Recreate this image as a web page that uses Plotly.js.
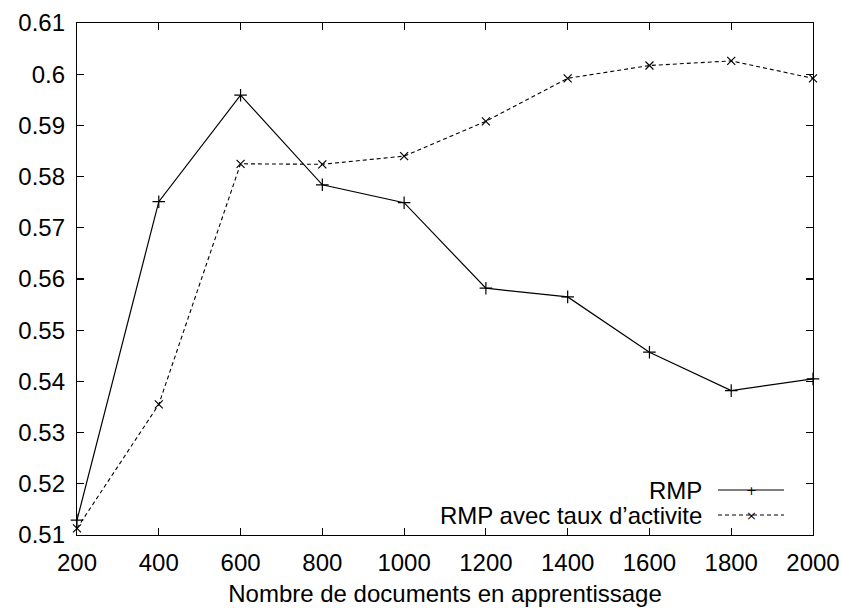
<!DOCTYPE html>
<html>
<head>
<meta charset="utf-8">
<script src="https://cdn.plot.ly/plotly-3.0.1.min.js"></script>
<style>html,body{margin:0;padding:0;background:#fff;}#chart{width:842px;height:608px;}</style>
</head>
<body>
<div id="chart"></div>
<script>
const docs = [200, 400, 600, 800, 1000, 1200, 1400, 1600, 1800, 2000];
const rmp = [0.5129, 0.5751, 0.5959, 0.5784, 0.5749, 0.5582, 0.5565, 0.5457, 0.5382, 0.5405];
const rmpTaux = [0.5113, 0.5355, 0.5825, 0.5824, 0.5840, 0.5908, 0.5992, 0.6017, 0.6026, 0.5992];
const yTickVals = [0.51, 0.52, 0.53, 0.54, 0.55, 0.56, 0.57, 0.58, 0.59, 0.60, 0.61];
const yTickText = ["0.51", "0.52", "0.53", "0.54", "0.55", "0.56", "0.57", "0.58", "0.59", "0.6", "0.61"];
const xTickVals = [200, 400, 600, 800, 1000, 1200, 1400, 1600, 1800, 2000];
const seriesNames = ["RMP", "RMP avec taux d\u2019activite"];

const font = {family: "Liberation Sans", size: 24, color: "#000"};

const traces = [
  {x: docs, y: rmp, type: "scatter", mode: "lines+markers", name: seriesNames[0],
   line: {color: "#000", width: 1.2},
   marker: {symbol: "cross-thin", size: 9, line: {color: "#000", width: 1.2}},
   cliponaxis: false, showlegend: false},
  {x: docs, y: rmpTaux, type: "scatter", mode: "lines+markers", name: seriesNames[1],
   line: {color: "#000", width: 1.1, dash: "4px,3px"},
   marker: {symbol: "x-thin", size: 8, line: {color: "#000", width: 1.2}},
   cliponaxis: false, showlegend: false}
];

const axisCommon = {
  showgrid: false, zeroline: false, showline: true, linecolor: "#000", linewidth: 1.2,
  mirror: "ticks", ticks: "inside", ticklen: 7, tickwidth: 1.2, tickcolor: "#000",
  tickfont: font
};

// plot area in pixels: x 77..813, y 23..535
function pxX(px){ return (px - 77) / 736; }
function pxY(py){ return 1 - (py - 23) / 512; }

const annotations = [
  {xref: "paper", yref: "paper", x: pxX(704), y: pxY(490), xanchor: "right", yanchor: "middle",
   text: seriesNames[0], showarrow: false, font: font},
  {xref: "paper", yref: "paper", x: pxX(704), y: pxY(515), xanchor: "right", yanchor: "middle",
   text: seriesNames[1], showarrow: false, font: font},
  {xref: "paper", yref: "paper", x: pxX(751), y: pxY(490), xanchor: "center", yanchor: "middle",
   text: "+", showarrow: false, font: {family: "DejaVu Sans", size: 13, color: "#000"}},
  {xref: "paper", yref: "paper", x: pxX(751), y: pxY(515), xanchor: "center", yanchor: "middle",
   text: "\u00d7", showarrow: false, font: {family: "DejaVu Sans", size: 13, color: "#000"}}
];
const shapes = [
  {type: "line", xref: "paper", yref: "paper", x0: pxX(718), x1: pxX(784), y0: pxY(490), y1: pxY(490),
   line: {color: "#000", width: 1.2}},
  {type: "line", xref: "paper", yref: "paper", x0: pxX(718), x1: pxX(784), y0: pxY(515), y1: pxY(515),
   line: {color: "#000", width: 1.1, dash: "4px,3px"}}
];

const layout = {
  width: 842, height: 608,
  margin: {l: 77, r: 29, t: 23, b: 73, pad: 0},
  paper_bgcolor: "#fff", plot_bgcolor: "#fff",
  font: font,
  showlegend: false,
  xaxis: Object.assign({}, axisCommon, {
    range: [200, 2000], tickvals: xTickVals, ticktext: xTickVals.map(String),
    ticklabelstandoff: 6,
    title: {text: "Nombre de documents en apprentissage", font: font, standoff: 10}
  }),
  yaxis: Object.assign({}, axisCommon, {
    range: [0.51, 0.61], tickvals: yTickVals, ticktext: yTickText,
    ticklabelstandoff: 6
  }),
  annotations: annotations,
  shapes: shapes
};

Plotly.newPlot("chart", traces, layout, {displayModeBar: false, staticPlot: true});
</script>
</body>
</html>
